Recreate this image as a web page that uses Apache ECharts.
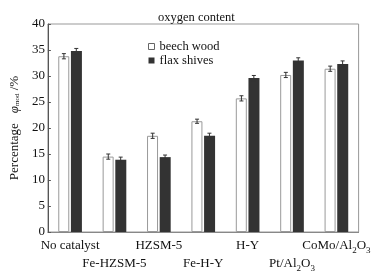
<!DOCTYPE html>
<html>
<head>
<meta charset="UTF-8">
<script src="https://cdn.jsdelivr.net/npm/echarts@6/dist/echarts.min.js"></script>
<title>oxygen content</title>
<style type="text/css">
body{
	padding:0;
	margin:0;
	background:#fff;
}
#chart{
	width:373px;
	height:274px;
}
</style>
</head>
<body>
<div id="chart"></div>
<script type="text/javascript">
var catalysts = ['No catalyst', 'Fe-HZSM-5', 'HZSM-5', 'Fe-H-Y', 'H-Y', 'Pt/Al2O3', 'CoMo/Al2O3'];
var beechWood = [33.8, 14.5, 18.5, 21.3, 25.7, 30.2, 31.4];
var flaxShives = [34.8, 13.9, 14.4, 18.5, 29.6, 33.0, 32.3];
var beechErr = [0.5, 0.5, 0.5, 0.4, 0.5, 0.5, 0.5];
var flaxErr = [0.5, 0.5, 0.4, 0.5, 0.5, 0.5, 0.6];
var yTicks = [0, 5, 10, 15, 20, 25, 30, 35, 40];

var serif = '"Liberation Serif", "DejaVu Serif", serif';
var barW = 11;
var shift = 6.2; // half bar + half gap

var myChart = echarts.init(document.getElementById('chart'));

// error bar drawing
function errBar(values, errs, dx) {
	return function (params, api) {
		var i = api.value(0);
		var hi = api.coord([i, values[i] + errs[i]]);
		var lo = api.coord([i, values[i] - errs[i]]);
		var x = hi[0] + dx;
		var style = { stroke: '#333', lineWidth: 1 };
		return {
			type: 'group',
			children: [
				{ type: 'line', shape: { x1: x, y1: hi[1], x2: x, y2: lo[1] }, style: style },
				{ type: 'line', shape: { x1: x - 2, y1: hi[1], x2: x + 2, y2: hi[1] }, style: style },
				{ type: 'line', shape: { x1: x - 2, y1: lo[1], x2: x + 2, y2: lo[1] }, style: style }
			]
		};
	};
}

function labelFmt(v, i) {
	var s = v.replace(/Al2O3/, 'Al{sub|2}O{sub|3}');
	return (i % 2 ? '\n' : '') + s;
}

var option = {
	animation: false,
	title: {
		text: 'oxygen content',
		left: 153,
		top: 6,
		textStyle: { fontFamily: serif, fontSize: 12.5, fontWeight: 'normal', color: '#111' }
	},
	legend: {
		orient: 'vertical',
		left: 143,
		top: 35,
		itemWidth: 6,
		itemHeight: 6,
		itemGap: 1,
		textStyle: { fontFamily: serif, fontSize: 12.5, color: '#111', padding: [0, 0, 0, 0] },
		data: [
			{ name: 'beech wood', icon: 'rect', itemStyle: { color: '#fff', borderColor: '#666', borderWidth: 1 } },
			{ name: 'flax shives', icon: 'rect' }
		]
	},
	grid: {
		left: 43,
		right: 12,
		top: 24,
		bottom: 42,
		show: true,
		borderColor: '#999',
		borderWidth: 1
	},
	xAxis: {
		type: 'category',
		data: catalysts,
		axisLine: { lineStyle: { color: '#888' } },
		axisTick: { alignWithLabel: true, inside: true, length: 3, lineStyle: { color: '#888' } },
		axisLabel: {
			interval: 0,
			margin: 5,
			color: '#111',
			fontFamily: serif,
			fontSize: 13,
			lineHeight: 18,
			formatter: labelFmt,
			rich: {
				sub: { fontFamily: serif, fontSize: 9, verticalAlign: 'bottom', lineHeight: 12, padding: [8, 0, 0, 0] }
			}
		}
	},
	yAxis: {
		type: 'value',
		min: 0,
		max: 40,
		interval: 5,
		name: '{n|Percentage}   {p|φ}{s|mod}{n| /%}',
		nameLocation: 'middle',
		nameGap: 24,
		nameTextStyle: {
			rich: {
				n: { fontFamily: serif, fontSize: 13, color: '#111' },
				p: { fontFamily: serif, fontSize: 13, fontStyle: 'italic', color: '#111' },
				s: { fontFamily: serif, fontSize: 7, color: '#111', verticalAlign: 'bottom', padding: [6, 0, 0, 0] }
			}
		},
		axisLine: { show: true, lineStyle: { color: '#555' } },
		axisTick: { show: true, inside: true, length: 3, lineStyle: { color: '#555' } },
		splitLine: { show: false },
		axisLabel: {
			margin: 3,
			color: '#111',
			fontFamily: serif,
			fontSize: 13,
			customValues: yTicks
		}
	},
	series: [
		{
			name: 'beech wood',
			type: 'bar',
			data: beechWood,
			barWidth: barW,
			barGap: '15%',
			itemStyle: { color: '#fff', borderColor: '#999', borderWidth: 1 }
		},
		{
			name: 'flax shives',
			type: 'bar',
			data: flaxShives,
			barWidth: barW,
			itemStyle: { color: '#333' }
		},
		{
			name: 'beech err',
			type: 'custom',
			renderItem: errBar(beechWood, beechErr, -shift),
			data: catalysts.map(function (c, i) { return [i]; }),
			z: 5
		},
		{
			name: 'flax err',
			type: 'custom',
			renderItem: errBar(flaxShives, flaxErr, shift),
			data: catalysts.map(function (c, i) { return [i]; }),
			z: 5
		}
	]
};

myChart.setOption(option);
</script>
</body>
</html>
